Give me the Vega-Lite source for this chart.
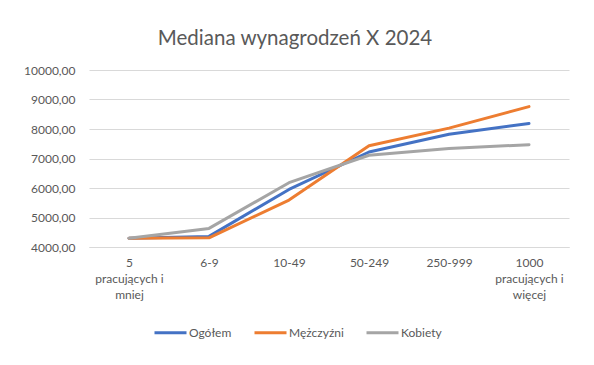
{
  "$schema": "https://vega.github.io/schema/vega-lite/v6.json",
  "width": 480,
  "height": 177,
  "padding": {"left": 23, "top": 28, "right": 26, "bottom": 10},
  "background": "white",
  "title": {
    "text": "Mediana wynagrodzeń X 2024",
    "font": "Lato",
    "fontSize": 20.5,
    "fontWeight": "normal",
    "color": "#595959",
    "anchor": "middle",
    "dx": -34,
    "offset": 15
  },
  "data": {
    "values": [
      {"kat": "5|pracujących i|mniej", "seria": "Ogółem", "v": 4300},
      {"kat": "6-9", "seria": "Ogółem", "v": 4360},
      {"kat": "10-49", "seria": "Ogółem", "v": 5950},
      {"kat": "50-249", "seria": "Ogółem", "v": 7220},
      {"kat": "250-999", "seria": "Ogółem", "v": 7820},
      {"kat": "1000|pracujących i|więcej", "seria": "Ogółem", "v": 8190},
      {"kat": "5|pracujących i|mniej", "seria": "Mężczyźni", "v": 4300},
      {"kat": "6-9", "seria": "Mężczyźni", "v": 4310},
      {"kat": "10-49", "seria": "Mężczyźni", "v": 5590},
      {"kat": "50-249", "seria": "Mężczyźni", "v": 7430},
      {"kat": "250-999", "seria": "Mężczyźni", "v": 8030},
      {"kat": "1000|pracujących i|więcej", "seria": "Mężczyźni", "v": 8760},
      {"kat": "5|pracujących i|mniej", "seria": "Kobiety", "v": 4300},
      {"kat": "6-9", "seria": "Kobiety", "v": 4630},
      {"kat": "10-49", "seria": "Kobiety", "v": 6180},
      {"kat": "50-249", "seria": "Kobiety", "v": 7110},
      {"kat": "250-999", "seria": "Kobiety", "v": 7340},
      {"kat": "1000|pracujących i|więcej", "seria": "Kobiety", "v": 7470}
    ]
  },
  "mark": {"type": "line", "strokeWidth": 3, "strokeCap": "round", "strokeJoin": "round"},
  "encoding": {
    "x": {
      "field": "kat",
      "type": "nominal",
      "sort": null,
      "scale": {"padding": 0.5},
      "axis": {
        "title": null,
        "labelAngle": 0,
        "labelExpr": "split(datum.label, '|')",
        "labelLineHeight": 16,
        "labelFont": "Lato",
        "labelFontSize": 12,
        "labelColor": "#595959",
        "labelPadding": 10,
        "ticks": false,
        "domainColor": "#d9d9d9",
        "grid": false
      }
    },
    "y": {
      "field": "v",
      "type": "quantitative",
      "scale": {"domain": [4000, 10000], "nice": false, "zero": false},
      "axis": {
        "title": null,
        "values": [4000, 5000, 6000, 7000, 8000, 9000, 10000],
        "labelExpr": "replace(format(datum.value, '.2f'), '.', ',')",
        "labelFont": "Lato",
        "labelFontSize": 12,
        "labelColor": "#595959",
        "labelPadding": 14,
        "ticks": false,
        "domain": false,
        "gridColor": "#d9d9d9",
        "gridWidth": 1
      }
    },
    "color": {
      "field": "seria",
      "type": "nominal",
      "scale": {
        "domain": ["Ogółem", "Mężczyźni", "Kobiety"],
        "range": ["#4472C4", "#ED7D31", "#A5A5A5"]
      },
      "legend": {
        "title": null,
        "orient": "none",
        "legendX": 64,
        "legendY": 245,
        "direction": "horizontal",
        "symbolType": "stroke",
        "symbolSize": 1024,
        "symbolStrokeWidth": 3,
        "labelFont": "Lato",
        "labelFontSize": 12,
        "labelColor": "#595959",
        "labelOffset": 1,
        "columnPadding": 16
      }
    }
  },
  "config": {"view": {"stroke": null}}
}
